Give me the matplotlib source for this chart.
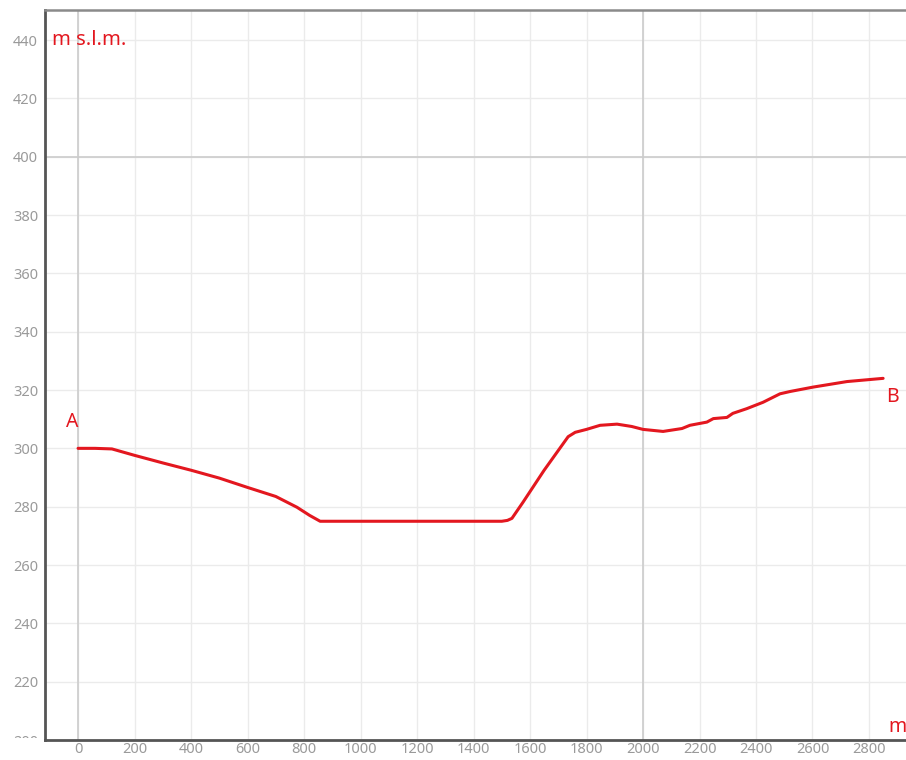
import matplotlib.pyplot as plt
from matplotlib.patches import Rectangle

# elevation profile A -> B
dist_m = [0, 60, 120, 200, 300, 400, 500, 600, 700, 775, 820, 857, 900,
          1100, 1300, 1500, 1520, 1536, 1575, 1650, 1735, 1760, 1800,
          1848, 1908, 1960, 2000, 2071, 2138, 2166, 2226, 2249, 2297,
          2318, 2367, 2425, 2485, 2521, 2602, 2722, 2850]
elev_m = [300, 300, 299.8, 297.6, 295, 292.5, 289.8, 286.6, 283.5, 279.8,
          277, 275, 275, 275, 275, 275, 275.3, 276, 281.5, 292.5, 304,
          305.5, 306.5, 307.9, 308.3, 307.5, 306.5, 305.8, 306.8, 307.9,
          309, 310.2, 310.6, 312, 313.6, 315.8, 318.7, 319.5, 321, 322.9,
          324]

x_ticks = list(range(0, 2801, 200))
y_ticks = list(range(200, 441, 20))

red = '#e3171f'
grey_txt = '#9a9a9a'

plt.rcParams['font.family'] = ['Noto Sans', 'DejaVu Sans']

fig = plt.figure(figsize=(9.06, 7.6), dpi=100)
ax = fig.add_axes([45 / 906, 20 / 760, 861 / 906, 730 / 760])

ax.set_xlim(-117, 2931)
ax.set_ylim(200, 450.3)

# light grid every 200 m / 20 m, darker at the major lines
for x in x_ticks:
    ax.axvline(x, color='#ebebeb', lw=1.0, zorder=0)
for y in y_ticks:
    ax.axhline(y, color='#ebebeb', lw=1.0, zorder=0)
ax.axvline(0, color='#cccccc', lw=1.2, zorder=0)
ax.axvline(2000, color='#cccccc', lw=1.2, zorder=0)
ax.axhline(400, color='#cccccc', lw=1.2, zorder=0)

ax.plot(dist_m, elev_m, color=red, lw=2.2, solid_capstyle='round',
        solid_joinstyle='round', zorder=3)

ax.set_xticks(x_ticks)
ax.set_yticks(y_ticks)
ax.tick_params(length=0, labelsize=10.5, colors=grey_txt)
ax.tick_params(axis='x', pad=1.5)
ax.tick_params(axis='y', pad=5)

# the lowest label sits half under the axis line
lab200 = ax.get_yticklabels()[0]
clip = Rectangle((0, 22 / 760), 1, 1, transform=fig.transFigure)
lab200.set_clip_path(clip)

for side in ['left', 'bottom']:
    ax.spines[side].set_color('#555555')
    ax.spines[side].set_linewidth(2.0)
ax.spines['top'].set_color('#8a8a8a')
ax.spines['top'].set_linewidth(1.8)
ax.spines['right'].set_visible(False)

ax.text(52 / 906, 1 - 40 / 760, 'm s.l.m.', transform=fig.transFigure,
        color=red, fontsize=14.5, va='center', ha='left')
ax.text(-20, 309, 'A', color=red, fontsize=14, ha='center', va='center')
ax.text(2860, 317.5, 'B', color=red, fontsize=14, ha='left', va='center')
ax.text(897 / 906, 1 - 727 / 760, 'm', transform=fig.transFigure,
        color=red, fontsize=14, ha='center', va='center')

fig.savefig('out.png', dpi=100)
